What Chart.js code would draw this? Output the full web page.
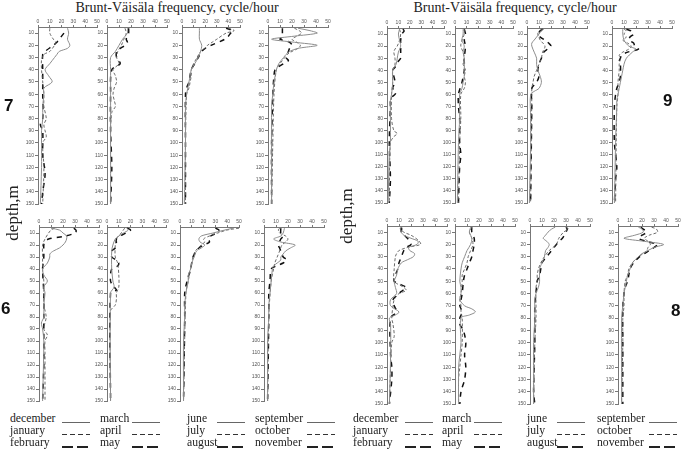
<!DOCTYPE html>
<html>
<head>
<meta charset="utf-8">
<script src="https://cdn.jsdelivr.net/npm/chart.js@4/dist/chart.umd.min.js"></script>
<style>
  body { margin: 0; background: #fff; }
  #wrap { position: relative; width: 685px; height: 451px; overflow: hidden; }
  #wrap canvas { position: absolute; }
  .title { position: absolute; font: 14px "Liberation Serif", serif; color: #222; white-space: nowrap; transform: translateX(-50%); }
  .depth { position: absolute; font: 17px "Liberation Serif", serif; color: #222; white-space: nowrap; transform: translate(-50%, -50%) rotate(-90deg); }
  .num { position: absolute; font: bold 17px "Liberation Sans", Arial, sans-serif; color: #111; }
  .leg { position: absolute; font: 13px/12px "Liberation Serif", serif; color: #222; white-space: nowrap; transform: scaleX(0.9); transform-origin: left; }
  .smp { position: absolute; width: 28px; }
</style>
</head>
<body>
<div id="wrap"></div>
<script>
// depth (m) ticks and frequency (cycle/hour) ticks
const depthTicks = [10, 20, 30, 40, 50, 60, 70, 80, 90, 100, 110, 120, 130, 140, 150];
const freqTicks = [0, 10, 20, 30, 40, 50];
const months = ['december', 'january', 'february', 'march', 'april', 'may',
                'june', 'july', 'august', 'september', 'october', 'november'];

// [depth, frequency] pairs, region 7 (top left)
const dec7 = [[6,25],[10,26],[15,25],[20,27],[22.5,25],[25,18],[27.5,16],[30,14],[35,10],[40,6],[45,9],[50,12],[55,5],[60,5],[70,4],[80,4],[90,3],[100,3],[120,3],[150,2]];
const jan7 = [[6,10],[10,10],[15,13],[17.5,15],[20,14],[25,10],[27.5,5],[32,3],[40,3],[50,4],[60,5],[70,5],[80,7],[85,5],[90,6],[95,7],[100,4],[120,5],[150,4]];
const feb7 = [[10,22],[15,18],[17.5,16],[20,13],[25,6],[27.5,4],[40,4],[60,4],[80,4],[85,2],[90,4],[110,4],[125,6],[140,4],[150,3]];
const mar7 = [[6,17],[10,17],[15,13],[20,10],[25,7],[30,3],[40,3],[60,3],[100,3],[150,3]];
const apr7 = [[6,15],[10,16],[15,14],[20,12],[25,9],[30,8],[35,10],[40,5],[45,7],[50,8],[55,6],[60,5],[65,6],[70,7],[75,4],[90,3],[120,3],[150,3]];
const may7 = [[6,18],[10,18],[15,16],[17.5,17],[20,15],[22.5,11],[25,8],[30,8],[35,11],[40,4],[60,3],[90,3],[120,4],[150,3]];
const jun7 = [[6,15],[10,15],[15,15],[20,17],[25,16],[30,14],[35,11],[40,8],[45,7],[50,6],[55,5],[60,4],[70,3],[100,3],[150,2]];
const jul7 = [[6,40],[8,45],[10,38],[15,30],[17.5,26],[20,22],[22.5,20],[25,16],[30,13],[35,10],[40,8],[45,8],[50,7],[55,6],[60,4],[100,3],[150,3]];
const aug7 = [[6,38],[8,44],[10,42],[12.5,40],[15,37],[20,25],[22.5,20],[25,17],[30,14],[35,11],[40,8],[50,6],[55,4],[60,3],[100,3],[150,3]];
const sep7 = [[6,25],[8,35],[10,41],[12.5,22],[15,3],[17.5,22],[20,41],[22.5,25],[25,18],[27.5,15],[30,13],[35,9],[40,7],[45,6],[50,5],[60,4],[70,3],[150,3]];
const oct7 = [[6,22],[8,26],[10,28],[12.5,24],[15,20],[17.5,24],[20,27],[22.5,25],[25,20],[27.5,16],[30,14],[35,10],[40,7],[60,5],[100,4],[150,3]];
const nov7 = [[6,12],[10,12],[13,12],[15,10],[17.5,18],[20,20],[22.5,18],[25,17],[30,15],[32.5,17],[35,13],[40,6],[45,5],[60,4],[100,3],[150,3]];

// region 6 (bottom left)
const dec6 = [[6,10],[7.5,17],[10,20],[12.5,23],[15,23],[17.5,22],[20,20],[22.5,17],[25,12],[27.5,9],[30,9],[35,7],[40,3],[45,4],[50,7],[55,4],[60,5],[70,4],[80,4],[85,2],[90,3],[100,4],[150,3]];
const jan6 = [[6,13],[7.5,10],[10,8],[15,5],[20,3],[30,3],[40,3],[50,4],[60,4],[70,4],[80,6],[90,4],[95,7],[100,5],[110,5],[150,5]];
const feb6 = [[6,29],[8,31],[10,30],[12.5,22],[15,8],[17.5,5],[20,4],[30,4],[40,3],[60,4],[80,4],[100,4],[120,4],[150,3]];
const mar6 = [[6,17],[7.5,18],[10,14],[12.5,10],[15,7],[20,5],[25,4],[40,4],[50,5],[55,6],[60,3],[150,3]];
const apr6 = [[6,15],[10,12],[15,8],[20,7],[30,7],[35,9],[45,10],[55,10],[60,8],[65,8],[70,7],[75,3],[150,3]];
const may6 = [[6,17],[7.5,20],[10,16],[12.5,11],[15,8],[20,8],[22.5,7],[25,4],[30,4],[32.5,8],[35,10],[37.5,9],[40,4],[50,3],[55,6],[57.5,8],[60,3],[150,3]];
const jun6 = [[6,45],[7.5,38],[10,28],[12.5,18],[15,16],[17.5,17],[20,21],[22.5,18],[25,14],[30,12],[35,10],[40,9],[45,7],[50,7],[55,6],[60,5],[70,4],[80,4],[100,3],[150,3]];
const jul6 = [[6,50],[7.5,40],[10,32],[12.5,25],[15,20],[17.5,21],[20,18],[25,13],[30,11],[40,9],[50,7],[60,5],[150,3]];
const aug6 = [[6,30],[7.5,33],[10,31],[12.5,26],[15,24],[17.5,25],[20,20],[22.5,16],[25,14],[30,11],[40,9],[50,6],[60,4],[80,4],[150,3]];
const sep6 = [[6,17],[10,16],[12.5,14],[15,8],[17.5,14],[20,26],[22.5,22],[25,18],[27.5,16],[30,14],[32.5,14],[35,11],[37.5,8],[40,7],[50,6],[60,5],[70,4],[80,4],[100,3],[150,3]];
const oct6 = [[6,13],[7.5,12],[10,13],[12.5,18],[15,20],[17.5,18],[20,15],[25,13],[30,11],[35,9],[40,8],[50,6],[80,4],[150,3]];
const nov6 = [[6,14],[10,14],[12.5,16],[15,14],[20,12],[22.5,13],[25,14],[30,16],[32.5,19],[35,16],[37.5,10],[40,6],[50,5],[60,4],[80,4],[150,3]];

// region 9 (top right)
const dec9 = [[6,11],[10,10],[15,11],[20,12],[25,10],[30,9],[35,8],[40,5],[50,5],[60,4],[65,3],[100,3],[110,2],[150,1]];
const jan9 = [[6,11],[10,12],[15,11],[20,9],[22.5,7],[25,6],[30,7],[35,7],[40,5],[50,5],[60,4],[80,4],[90,6],[92.5,9],[95,6],[100,3],[150,2]];
const feb9 = [[6,14],[7.5,15],[10,13],[15,12],[20,12],[25,12],[30,12],[32.5,10],[35,9],[37.5,7],[40,5],[45,6],[50,7],[55,5],[57.5,8],[60,7],[62.5,4],[65,3],[70,3],[100,2],[130,3],[150,2]];
const mar9 = [[6,7],[10,7],[15,6],[20,8],[25,7],[30,8],[40,8],[45,8],[50,7],[55,6],[60,4],[80,4],[100,3],[150,2]];
const apr9 = [[6,8],[10,8],[15,6],[20,5],[25,7],[30,8],[35,7],[40,9],[45,8],[50,9],[55,8],[60,5],[80,5],[100,4],[150,3]];
const may9 = [[6,8],[10,9],[15,8],[20,9],[30,8],[40,8],[50,6],[60,3],[70,3],[80,4],[100,4],[110,5],[120,4],[150,3]];
const jun9 = [[6,14],[7.5,12],[10,10],[12.5,8],[15,6],[17.5,4],[20,4],[25,6],[30,8],[35,8],[40,9],[45,11],[50,12],[55,10],[57.5,6],[60,3],[80,3],[100,3],[150,2]];
const jul9 = [[6,12],[7.5,10],[10,9],[15,11],[20,15],[25,13],[30,12],[35,10],[40,8],[45,6],[50,5],[55,4],[60,4],[150,3]];
const aug9 = [[6,13],[7.5,11],[10,9],[12.5,11],[15,15],[17.5,18],[20,20],[22.5,17],[25,14],[30,12],[35,10],[40,9],[45,10],[50,8],[55,4],[70,4],[150,3]];
const sep9 = [[6,9],[10,9],[15,10],[20,14],[22.5,20],[25,17],[30,12],[35,10],[40,9],[45,8],[50,7],[55,6],[60,5],[65,4],[70,4],[100,3],[150,2]];
const oct9 = [[6,10],[7.5,12],[10,10],[12.5,12],[15,9],[17.5,13],[20,16],[22.5,14],[25,9],[27.5,6],[30,7],[35,6],[40,6],[50,5],[60,5],[70,4],[150,3]];
const nov9 = [[6,12],[7.5,16],[10,18],[12.5,15],[15,14],[17.5,18],[20,19],[22.5,22],[25,13],[27.5,8],[30,7],[32.5,6],[35,7],[45,7],[50,6],[55,4],[60,3],[70,2],[100,2],[120,4],[130,3],[150,2]];

// region 8 (bottom right)
const dec8 = [[6,12],[7.5,13],[10,12],[12.5,14],[15,20],[17.5,26],[20,25],[22.5,18],[25,19],[27.5,23],[30,22],[32.5,17],[35,12],[40,9],[45,8],[50,6],[55,7],[60,8],[65,3],[70,3],[75,10],[77.5,7],[80,2],[85,3],[110,3],[150,2]];
const jan8 = [[6,12],[7.5,11],[10,14],[12.5,20],[15,24],[17.5,27],[20,28],[22.5,17],[25,10],[27.5,8],[30,7],[40,6],[50,6],[55,14],[57.5,16],[60,10],[65,6],[70,5],[80,4],[85,5],[95,6],[100,4],[120,3],[150,2]];
const feb8 = [[6,12],[10,12],[15,17],[20,20],[22.5,16],[25,14],[30,12],[35,10],[40,9],[45,7],[50,6],[55,16],[57.5,13],[60,10],[65,5],[70,6],[75,8],[80,3],[110,3],[120,4],[130,4],[150,2]];
const mar8 = [[6,13],[10,12],[15,14],[20,13],[25,10],[30,8],[35,6],[40,5],[50,4],[55,5],[60,5],[65,4],[70,8],[72.5,14],[75,17],[77.5,12],[80,5],[100,5],[110,4],[120,3],[150,3]];
const apr8 = [[6,14],[10,12],[15,14],[20,15],[25,13],[30,11],[35,10],[40,8],[45,6],[50,6],[60,5],[65,4],[70,5],[75,5],[80,6],[100,6],[110,5],[120,4],[130,3],[150,3]];
const may8 = [[6,14],[10,14],[15,16],[20,16],[25,15],[30,14],[35,12],[40,10],[45,8],[50,7],[60,6],[65,5],[70,4],[75,6],[80,4],[85,4],[90,7],[100,9],[110,8],[120,9],[130,8],[140,5],[150,4]];
const jun8 = [[6,21],[7.5,18],[10,15],[12.5,13],[15,11],[17.5,14],[20,16],[22.5,15],[25,13],[30,12],[35,10],[40,8],[50,8],[55,7],[60,5],[65,4],[80,4],[100,3],[150,3]];
const jul8 = [[6,30],[7.5,32],[10,28],[15,24],[20,22],[25,16],[30,12],[35,9],[40,7],[45,6],[50,6],[55,5],[80,5],[100,4],[150,3]];
const aug8 = [[6,30],[7.5,31],[10,30],[15,27],[17.5,24],[20,22],[25,18],[30,14],[35,10],[40,9],[45,8],[50,6],[60,5],[70,4],[100,4],[140,3],[150,4]];
const sep8 = [[6,17],[7.5,20],[10,21],[12.5,14],[15,5],[17.5,22],[20,38],[22.5,30],[25,25],[27.5,20],[30,17],[35,12],[40,10],[45,8],[50,7],[55,6],[60,5],[70,4],[80,3],[150,3]];
const oct8 = [[6,28],[7.5,32],[10,33],[12.5,26],[15,22],[17.5,25],[20,27],[22.5,25],[25,24],[27.5,21],[30,17],[35,12],[40,9],[45,8],[50,6],[60,5],[70,5],[80,4],[100,4],[150,3]];
const nov8 = [[6,19],[7.5,21],[10,24],[12.5,20],[15,17],[17.5,24],[20,33],[22.5,30],[25,26],[27.5,22],[30,18],[35,13],[40,10],[45,9],[50,8],[55,6],[60,5],[70,4],[100,4],[150,4]];

const panels = [
  { series: [dec7, jan7, feb7], box: [38, 27, 59, 177] },
  { series: [mar7, apr7, may7], box: [107, 27, 60, 177] },
  { series: [jun7, jul7, aug7], box: [182, 27, 58, 177] },
  { series: [sep7, oct7, nov7], box: [268, 27, 60, 177] },
  { series: [dec6, jan6, feb6], box: [39, 227, 60, 174] },
  { series: [mar6, apr6, may6], box: [107, 227, 59, 174] },
  { series: [jun6, jul6, aug6], box: [180, 227, 59, 174] },
  { series: [sep6, oct6, nov6], box: [264, 227, 60, 174] },
  { series: [dec9, jan9, feb9], box: [387, 28, 57, 175] },
  { series: [mar9, apr9, may9], box: [455, 28, 58, 175] },
  { series: [jun9, jul9, aug9], box: [527, 28, 60, 175] },
  { series: [sep9, oct9, nov9], box: [612, 28, 60, 175] },
  { series: [dec8, jan8, feb8], box: [387, 226, 60, 178] },
  { series: [mar8, apr8, may8], box: [455, 226, 60, 178] },
  { series: [jun8, jul8, aug8], box: [530, 226, 60, 178] },
  { series: [sep8, oct8, nov8], box: [618, 226, 60, 178] }
];

const lineStyles = [
  { color: '#8c8c8c', width: 1, dash: [] },
  { color: '#5a5a5a', width: 0.9, dash: [3, 2] },
  { color: '#111111', width: 1.5, dash: [5, 5] }
];

const wrap = document.getElementById('wrap');
const LEFT = 20, TOP = 9, PAD_R = 5, PAD_B = 4;
const tickFont = { family: 'Liberation Sans, Arial, sans-serif', size: 5 };

panels.forEach(p => {
    const [x, y, w, h] = p.box;
    const canvas = document.createElement('canvas');
    canvas.width = w + LEFT + PAD_R;
    canvas.height = h + TOP + PAD_B;
    canvas.style.left = (x - LEFT) + 'px';
    canvas.style.top = (y - TOP) + 'px';
    wrap.appendChild(canvas);

    new Chart(canvas, {
        type: 'scatter',
        data: {
            datasets: p.series.map((s, i) => ({
                data: s.map(([d, f]) => ({ x: f, y: d })),
                showLine: true,
                borderColor: lineStyles[i].color,
                borderWidth: lineStyles[i].width,
                borderDash: lineStyles[i].dash,
                pointRadius: 0,
                tension: 0.3
            }))
        },
        options: {
            responsive: false,
            animation: false,
            events: [],
            layout: { padding: { right: PAD_R, bottom: PAD_B } },
            plugins: { legend: { display: false }, tooltip: { enabled: false } },
            scales: {
                x: {
                    type: 'linear', position: 'top', min: 0, max: 50,
                    afterBuildTicks: s => { s.ticks = freqTicks.map(v => ({ value: v })); },
                    afterFit: s => { s.height = TOP; s.paddingLeft = 0; s.paddingRight = 0; },
                    ticks: { font: tickFont, color: '#555', padding: 0, maxRotation: 0, autoSkip: false },
                    grid: { drawOnChartArea: false, tickLength: 2, color: '#777' },
                    border: { color: '#777', width: 1 }
                },
                y: {
                    type: 'linear', reverse: true, min: 5, max: 150,
                    afterBuildTicks: s => { s.ticks = depthTicks.map(v => ({ value: v })); },
                    afterFit: s => { s.width = LEFT; s.paddingTop = 0; s.paddingBottom = 0; },
                    ticks: { font: tickFont, color: '#555', padding: 1, autoSkip: false },
                    grid: { drawOnChartArea: false, tickLength: 3, color: '#777' },
                    border: { color: '#777', width: 1 }
                }
            }
        }
    });
});

function addDiv(cls, text, left, top) {
    const d = document.createElement('div');
    d.className = cls;
    d.textContent = text;
    d.style.left = left + 'px';
    d.style.top = top + 'px';
    wrap.appendChild(d);
    return d;
}

// titles, axis names and region numbers
const title = 'Brunt-Väisäla frequency, cycle/hour';
addDiv('title', title, 177, 0);
addDiv('title', title, 515, 0);
addDiv('depth', 'depth,m', 13, 213);
addDiv('depth', 'depth,m', 347, 216);
addDiv('num', '7', 4, 96);
addDiv('num', '6', 1, 299);
addDiv('num', '9', 663, 91);
addDiv('num', '8', 671, 301);

// legend blocks under each half: month name, then a line sample
const sampleCss = [
    'border-bottom: 1px solid #666;',
    'height: 1px; background: repeating-linear-gradient(to right, #333 0 5px, transparent 5px 8px);',
    'height: 1.5px; background: repeating-linear-gradient(to right, #222 0 11px, transparent 11px 15px);'
];
const legCols = [[10, 100, 187, 255], [353, 442, 527, 597]];
const sampleOffset = [52, 32, 30, 52];
legCols.forEach(cols => {
    cols.forEach((cx, c) => {
        for (let r = 0; r < 3; r++) {
            const top = 412 + r * 12;
            addDiv('leg', months[c * 3 + r], cx, top);
            const s = document.createElement('div');
            s.className = 'smp';
            s.style.cssText = sampleCss[r];
            s.style.left = (cx + sampleOffset[c]) + 'px';
            s.style.top = (top + 10) + 'px';
            wrap.appendChild(s);
        }
    });
});
</script>
</body>
</html>
